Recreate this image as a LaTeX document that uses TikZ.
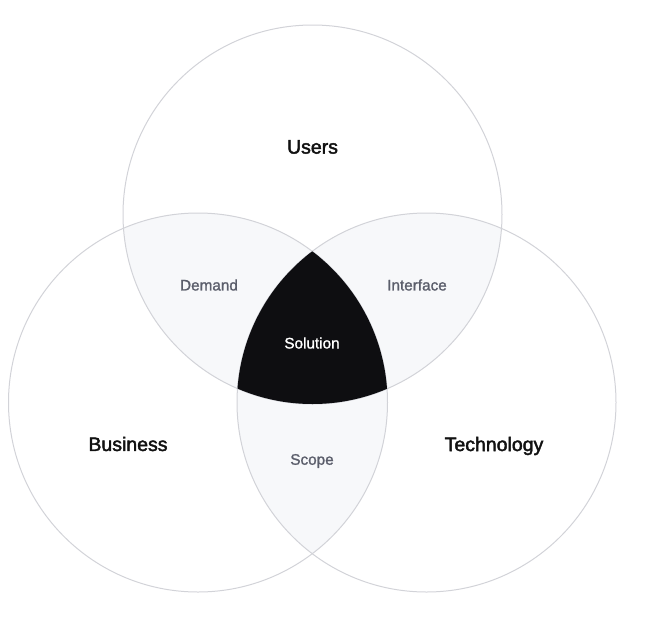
\documentclass[tikz,border=0pt]{standalone}
\usepackage{fontspec}
\setmainfont{Liberation Sans}
\newfontfamily\medfont{Liberation Sans}[FakeBold=2.2]
\newfontfamily\lightmed{Liberation Sans}[FakeBold=1.3]
\definecolor{ring}{HTML}{D2D3D8}
\definecolor{lens}{HTML}{F7F8FA}
\definecolor{core}{HTML}{0E0E11}
\definecolor{main}{HTML}{111111}
\definecolor{sub}{HTML}{5B5E6B}
\tikzset{
  ringstyle/.style={draw=ring, line width=1pt},
  bigtext/.style={text=main, font=\medfont\fontsize{19.5}{22}\selectfont},
  subtext/.style={text=sub, font=\lightmed\fontsize{15.3}{17}\selectfont},
  coretext/.style={text=white, font=\lightmed\fontsize{15.3}{17}\selectfont},
}
\begin{document}
\begin{tikzpicture}[x=1pt,y=-1pt]
\useasboundingbox (0,0) rectangle (648,619);
\def\R{189.5}
\coordinate (cu) at (312.5,214.5);
\coordinate (cb) at (198,402.5);
\coordinate (ct) at (426.5,402.5);
% pairwise lenses
\begin{scope}
  \clip (cu) circle (\R);
  \fill[lens] (cb) circle (\R);
  \fill[lens] (ct) circle (\R);
\end{scope}
\begin{scope}
  \clip (cb) circle (\R);
  \fill[lens] (ct) circle (\R);
\end{scope}
% outlines
\draw[ringstyle] (cu) circle (\R);
\draw[ringstyle] (cb) circle (\R);
\draw[ringstyle] (ct) circle (\R);
% triple region
\begin{scope}
  \clip (cu) circle (\R);
  \clip (cb) circle (\R);
  \fill[core] (ct) circle (\R);
\end{scope}
% labels
\node[bigtext] (users) at (312.5,147) {Users};
\node[bigtext] (business) at (128,444) {Business};
\node[bigtext] (technology) at (494,446) {Technology};
\node[subtext] (demand) at (209,285) {Demand};
\node[subtext] (interface) at (417,285) {Interface};
\node[subtext] (scope) at (312,461) {Scope};
\node[coretext] (solution) at (312,343) {Solution};
\end{tikzpicture}
\end{document}
